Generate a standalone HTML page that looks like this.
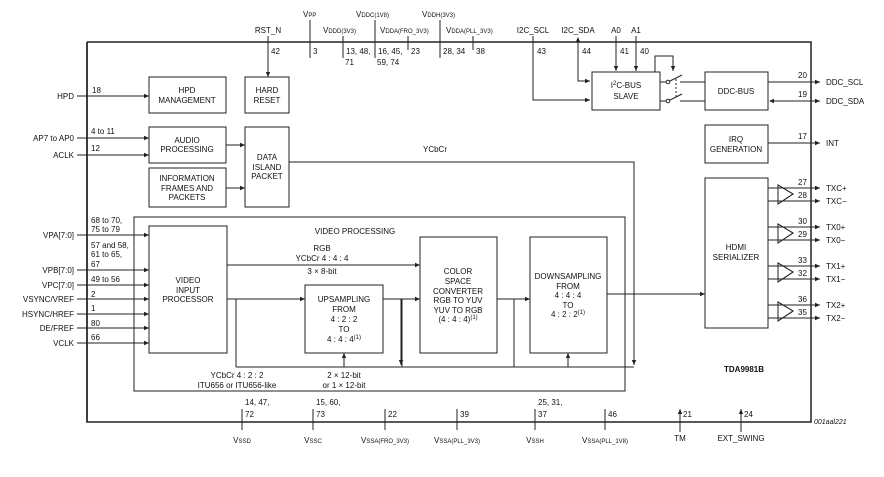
<!DOCTYPE html>
<html><head><style>
body{margin:0;background:#fff}
svg{display:block;font-family:"Liberation Sans",sans-serif;font-size:8px;fill:#111}
line,polyline,rect,path{stroke:#222;fill:none;stroke-width:1}
.c{text-anchor:middle}.r{text-anchor:end}
</style></head><body>
<svg width="884" height="477" viewBox="0 0 884 477">
<defs><marker id="a" markerWidth="6" markerHeight="6" refX="5" refY="3" orient="auto"><path d="M0,0.8L5,3L0,5.2z" style="fill:#222;stroke:none"/></marker>
<marker id="s" markerWidth="6" markerHeight="6" refX="1" refY="3" orient="auto"><path d="M5,0.8L0,3L5,5.2z" style="fill:#222;stroke:none"/></marker></defs>
<!-- outer box -->
<polyline points="87,42 811,42 811,422 87,422 87,42" style="stroke-width:1.5"/>
<line x1="87" y1="42" x2="87" y2="422" style="stroke-width:1.5"/>
<!-- top pins -->
<g>
<line x1="268" y1="36" x2="268" y2="77" marker-end="url(#a)"/><text x="268" y="33" class="c">RST_N</text><text x="271" y="54">42</text>
<line x1="310" y1="20" x2="310" y2="58"/><text x="303" y="17">V<tspan font-size="6">PP</tspan></text><text x="313" y="54">3</text>
<line x1="343" y1="36" x2="343" y2="58"/><text x="323" y="33">V<tspan font-size="6">DDD(3V3)</tspan></text><text x="346" y="54">13, 48,</text><text x="345" y="65">71</text>
<line x1="375" y1="20" x2="375" y2="58"/><text x="356" y="17">V<tspan font-size="6">DDC(1V8)</tspan></text><text x="378" y="54">16, 45,</text><text x="377" y="65">59, 74</text>
<line x1="408" y1="36" x2="408" y2="50"/><text x="380" y="33">V<tspan font-size="6">DDA(FRO_3V3)</tspan></text><text x="411" y="54">23</text>
<line x1="440" y1="20" x2="440" y2="58"/><text x="422" y="17">V<tspan font-size="6">DDH(3V3)</tspan></text><text x="443" y="54">28, 34</text>
<line x1="473" y1="36" x2="473" y2="50"/><text x="446" y="33">V<tspan font-size="6">DDA(PLL_3V3)</tspan></text><text x="476" y="54">38</text>
<text x="533" y="33" class="c">I2C_SCL</text><polyline points="533,36 533,100 590,100" marker-end="url(#a)"/><text x="537" y="54">43</text>
<text x="578" y="33" class="c">I2C_SDA</text><polyline points="578,38 578,81 590,81" marker-start="url(#s)" marker-end="url(#a)"/><text x="582" y="54">44</text>
<text x="616" y="33" class="c">A0</text><line x1="616" y1="36" x2="616" y2="71" marker-end="url(#a)"/><text x="620" y="54">41</text>
<text x="636" y="33" class="c">A1</text><line x1="636" y1="36" x2="636" y2="71" marker-end="url(#a)"/><text x="640" y="54">40</text>
</g>
<!-- left blocks -->
<rect x="149" y="77" width="77" height="36"/><text x="187" y="93" class="c">HPD</text><text x="187" y="103" class="c">MANAGEMENT</text>
<rect x="245" y="77" width="44" height="36"/><text x="267" y="93" class="c">HARD</text><text x="267" y="103" class="c">RESET</text>
<rect x="149" y="127" width="77" height="36"/><text x="187" y="143" class="c">AUDIO</text><text x="187" y="152" class="c">PROCESSING</text>
<rect x="149" y="168" width="77" height="39"/><text x="187" y="181" class="c">INFORMATION</text><text x="187" y="191" class="c">FRAMES AND</text><text x="187" y="200" class="c">PACKETS</text>
<rect x="245" y="127" width="44" height="80"/><text x="267" y="160" class="c">DATA</text><text x="267" y="170" class="c">ISLAND</text><text x="267" y="179" class="c">PACKET</text>
<line x1="226" y1="145" x2="245" y2="145" marker-end="url(#a)"/><line x1="226" y1="188" x2="245" y2="188" marker-end="url(#a)"/>
<line x1="77" y1="96" x2="149" y2="96" marker-end="url(#a)"/><text x="74" y="99" class="r">HPD</text><text x="92" y="93">18</text>
<line x1="77" y1="138" x2="149" y2="138" marker-end="url(#a)"/><text x="74" y="141" class="r">AP7 to AP0</text><text x="91" y="134">4 to 11</text>
<line x1="77" y1="155" x2="149" y2="155" marker-end="url(#a)"/><text x="74" y="158" class="r">ACLK</text><text x="91" y="151">12</text>
<!-- YCbCr line -->
<polyline points="289,162 634,162 634,365" marker-end="url(#a)"/><text x="435" y="152" class="c">YCbCr</text>
<!-- video processing -->
<rect x="134" y="217" width="491" height="174"/><text x="355" y="234" class="c">VIDEO PROCESSING</text>
<rect x="149" y="226" width="78" height="127"/><text x="188" y="283" class="c">VIDEO</text><text x="188" y="293" class="c">INPUT</text><text x="188" y="302" class="c">PROCESSOR</text>
<rect x="305" y="285" width="78" height="68"/><text x="344" y="302" class="c">UPSAMPLING</text><text x="344" y="312" class="c">FROM</text><text x="344" y="322" class="c">4 : 2 : 2</text><text x="344" y="332" class="c">TO</text><text x="344" y="342" class="c">4 : 4 : 4<tspan font-size="6" dy="-3">(1)</tspan></text>
<rect x="420" y="237" width="77" height="116"/><text x="458" y="274" class="c">COLOR</text><text x="458" y="284" class="c">SPACE</text><text x="458" y="294" class="c">CONVERTER</text><text x="458" y="303" class="c">RGB TO YUV</text><text x="458" y="313" class="c">YUV TO RGB</text><text x="458" y="322" class="c">(4 : 4 : 4)<tspan font-size="6" dy="-3">(1)</tspan></text>
<rect x="530" y="237" width="77" height="116"/><text x="568" y="279" class="c">DOWNSAMPLING</text><text x="568" y="289" class="c">FROM</text><text x="568" y="298" class="c">4 : 4 : 4</text><text x="568" y="308" class="c">TO</text><text x="568" y="317" class="c">4 : 2 : 2<tspan font-size="6" dy="-3">(1)</tspan></text>
<line x1="227" y1="265" x2="420" y2="265" marker-end="url(#a)"/><text x="322" y="251" class="c">RGB</text><text x="322" y="261" class="c">YCbCr 4 : 4 : 4</text><text x="322" y="274" class="c">3 × 8-bit</text>
<line x1="227" y1="299" x2="305" y2="299" marker-end="url(#a)"/>
<line x1="383" y1="299" x2="420" y2="299" marker-end="url(#a)"/>
<line x1="497" y1="299" x2="530" y2="299" marker-end="url(#a)"/>
<line x1="607" y1="294" x2="705" y2="294" marker-end="url(#a)"/>
<line x1="236" y1="299" x2="236" y2="367"/><line x1="236" y1="367" x2="634" y2="367"/>
<line x1="401" y1="299" x2="401" y2="365" marker-end="url(#a)"/>
<line x1="402" y1="299" x2="402" y2="367"/>
<line x1="514" y1="299" x2="514" y2="367"/>
<line x1="344" y1="367" x2="344" y2="353" marker-end="url(#a)"/>
<line x1="568" y1="367" x2="568" y2="353" marker-end="url(#a)"/>
<text x="237" y="378" class="c">YCbCr 4 : 2 : 2</text><text x="237" y="388" class="c">ITU656 or ITU656-like</text>
<text x="344" y="378" class="c">2 × 12-bit</text><text x="344" y="388" class="c">or 1 × 12-bit</text>
<!-- left video inputs -->
<g>
<line x1="77" y1="235" x2="149" y2="235" marker-end="url(#a)"/><text x="74" y="238" class="r">VPA[7:0]</text><text x="91" y="223">68 to 70,</text><text x="91" y="232">75 to 79</text>
<line x1="77" y1="270" x2="149" y2="270" marker-end="url(#a)"/><text x="74" y="273" class="r">VPB[7:0]</text><text x="91" y="248">57 and 58,</text><text x="91" y="257">61 to 65,</text><text x="91" y="267">67</text>
<line x1="77" y1="285" x2="149" y2="285" marker-end="url(#a)"/><text x="74" y="288" class="r">VPC[7:0]</text><text x="91" y="282">49 to 56</text>
<line x1="77" y1="299" x2="149" y2="299" marker-end="url(#a)"/><text x="74" y="302" class="r">VSYNC/VREF</text><text x="91" y="297">2</text>
<line x1="77" y1="314" x2="149" y2="314" marker-end="url(#a)"/><text x="74" y="317" class="r">HSYNC/HREF</text><text x="91" y="311">1</text>
<line x1="77" y1="328" x2="149" y2="328" marker-end="url(#a)"/><text x="74" y="331" class="r">DE/FREF</text><text x="91" y="326">80</text>
<line x1="77" y1="343" x2="149" y2="343" marker-end="url(#a)"/><text x="74" y="346" class="r">VCLK</text><text x="91" y="340">66</text>
</g>
<!-- right side -->
<rect x="592" y="72" width="68" height="38"/><text x="626" y="88" class="c">I<tspan font-size="6" dy="-3">2</tspan><tspan dy="3">C-BUS</tspan></text><text x="626" y="99" class="c">SLAVE</text>
<polyline points="655,72 655,56 673,56 673,71" marker-end="url(#a)"/>
<line x1="660" y1="82" x2="666" y2="82"/><circle cx="668" cy="82" r="1.8" style="fill:#fff;stroke:#222"/><line x1="670" y1="81" x2="682" y2="75"/>
<line x1="660" y1="101" x2="666" y2="101"/><circle cx="668" cy="101" r="1.8" style="fill:#fff;stroke:#222"/><line x1="670" y1="100" x2="682" y2="94"/>
<line x1="676" y1="79" x2="676" y2="97" style="stroke-dasharray:2,2"/>
<line x1="680" y1="82" x2="705" y2="82"/><line x1="680" y1="101" x2="705" y2="101"/>
<rect x="705" y="72" width="63" height="38"/><text x="736" y="94" class="c">DDC-BUS</text>
<line x1="768" y1="82" x2="820" y2="82" marker-end="url(#a)"/><text x="826" y="85">DDC_SCL</text><text x="798" y="78">20</text>
<line x1="770" y1="101" x2="820" y2="101" marker-start="url(#s)" marker-end="url(#a)"/><text x="826" y="104">DDC_SDA</text><text x="798" y="97">19</text>
<rect x="705" y="125" width="63" height="38"/><text x="736" y="142" class="c">IRQ</text><text x="736" y="152" class="c">GENERATION</text>
<line x1="768" y1="143" x2="820" y2="143" marker-end="url(#a)"/><text x="826" y="146">INT</text><text x="798" y="139">17</text>
<rect x="705" y="178" width="63" height="150"/><text x="736" y="250" class="c">HDMI</text><text x="736" y="260" class="c">SERIALIZER</text>
<g id="b">
<polygon points="778,185 778,204 793,194" style="fill:#fff;stroke:#222"/>
<line x1="768" y1="188" x2="820" y2="188" marker-end="url(#a)"/><line x1="768" y1="201" x2="820" y2="201" marker-end="url(#a)"/>
<polygon points="778,185 778,204 793,194" style="fill:none;stroke:#222"/>
</g>
<use href="#b" y="39"/><use href="#b" y="78"/><use href="#b" y="117"/>
<text x="798" y="185">27</text><text x="798" y="198">28</text><text x="826" y="191">TXC+</text><text x="826" y="204">TXC−</text>
<text x="798" y="224">30</text><text x="798" y="237">29</text><text x="826" y="230">TX0+</text><text x="826" y="243">TX0−</text>
<text x="798" y="263">33</text><text x="798" y="276">32</text><text x="826" y="269">TX1+</text><text x="826" y="282">TX1−</text>
<text x="798" y="302">36</text><text x="798" y="315">35</text><text x="826" y="308">TX2+</text><text x="826" y="321">TX2−</text>
<text x="724" y="372" style="font-weight:bold">TDA9981B</text>
<text x="814" y="424" style="font-style:italic;font-size:7px">001aal221</text>
<!-- bottom pins -->
<g>
<line x1="242" y1="409" x2="242" y2="430"/><text x="245" y="405">14, 47,</text><text x="245" y="417">72</text><text x="242" y="443" class="c">V<tspan font-size="6">SSD</tspan></text>
<line x1="313" y1="409" x2="313" y2="430"/><text x="316" y="405">15, 60,</text><text x="316" y="417">73</text><text x="313" y="443" class="c">V<tspan font-size="6">SSC</tspan></text>
<line x1="385" y1="409" x2="385" y2="430"/><text x="388" y="417">22</text><text x="385" y="443" class="c">V<tspan font-size="6">SSA(FRO_3V3)</tspan></text>
<line x1="457" y1="409" x2="457" y2="430"/><text x="460" y="417">39</text><text x="457" y="443" class="c">V<tspan font-size="6">SSA(PLL_3V3)</tspan></text>
<line x1="535" y1="409" x2="535" y2="430"/><text x="538" y="405">25, 31,</text><text x="538" y="417">37</text><text x="535" y="443" class="c">V<tspan font-size="6">SSH</tspan></text>
<line x1="605" y1="409" x2="605" y2="430"/><text x="608" y="417">46</text><text x="605" y="443" class="c">V<tspan font-size="6">SSA(PLL_1V8)</tspan></text>
<line x1="680" y1="432" x2="680" y2="409" marker-end="url(#a)"/><text x="683" y="417">21</text><text x="680" y="441" class="c">TM</text>
<line x1="741" y1="432" x2="741" y2="409" marker-end="url(#a)"/><text x="744" y="417">24</text><text x="741" y="441" class="c">EXT_SWING</text>
</g>
</svg>
</body></html>
